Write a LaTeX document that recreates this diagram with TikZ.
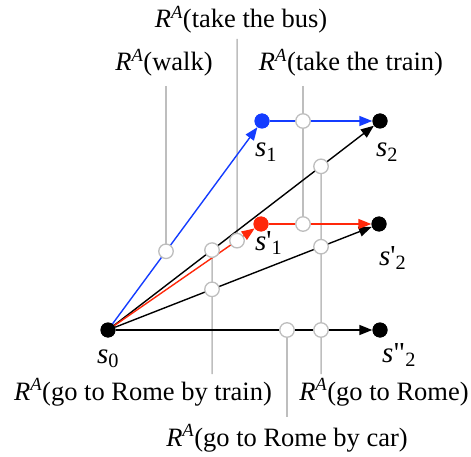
\documentclass[tikz,border=0pt]{standalone}
\usepackage{fontspec}
\setmainfont{Liberation Serif}
\usetikzlibrary{arrows.meta}
\definecolor{blueA}{RGB}{20,60,255}
\definecolor{redA}{RGB}{255,40,10}
\definecolor{grayA}{RGB}{190,190,190}
\newcommand{\RA}{\textit{R}\textsuperscript{\textit{A}}}
\begin{document}
\begin{tikzpicture}[x=1pt,y=-1pt,
  dot/.style={circle,fill=black,inner sep=0pt,minimum size=15pt},
  ring/.style={circle,draw=grayA,fill=white,line width=1.3pt,inner sep=0pt,minimum size=14.5pt},
  grayline/.style={draw=grayA,line width=1.5pt},
  arr/.style={line width=1.4pt,-{Triangle[length=13pt,width=10pt]}},
  rlabel/.style={font=\fontsize{26.5}{30}\selectfont,anchor=base,inner sep=0pt},
  slabel/.style={font=\fontsize{29}{32}\selectfont,anchor=base west,inner sep=0pt}]
\useasboundingbox (0,0) rectangle (471,457);
% states
\node[dot] (s0) at (108,330) {};
\node[dot,fill=blueA] (s1) at (262,121) {};
\node[dot] (s2) at (380,121) {};
\node[dot,fill=redA] (s1p) at (261,224) {};
\node[dot] (s2p) at (379,224) {};
\node[dot] (s2pp) at (380,330) {};
% vertical guide coordinates
\coordinate (walkT) at (166,86);  \coordinate (walkB) at (166,457);
\coordinate (busT) at (237,39);   \coordinate (busB) at (237,457);
\coordinate (trainT) at (303,86); \coordinate (trainB) at (303,457);
\coordinate (rtT) at (212,0);     \coordinate (rtB) at (212,374);
\coordinate (rT) at (321,0);      \coordinate (rB) at (321,374);
\coordinate (rcT) at (287,0);     \coordinate (rcB) at (287,417);
% intersection points
\coordinate (cw) at (intersection of s0--s1 and walkT--walkB);
\coordinate (cb) at (intersection of s0--s1p and busT--busB);
\coordinate (ct1) at (intersection of s1--s2 and trainT--trainB);
\coordinate (ct2) at (intersection of s1p--s2p and trainT--trainB);
\coordinate (crt1) at (intersection of s0--s2 and rtT--rtB);
\coordinate (crt2) at (intersection of s0--s2p and rtT--rtB);
\coordinate (cr1) at (intersection of s0--s2 and rT--rB);
\coordinate (cr2) at (intersection of s0--s2p and rT--rB);
\coordinate (cr3) at (intersection of s0--s2pp and rT--rB);
\coordinate (crc) at (intersection of s0--s2pp and rcT--rcB);
% gray lines
\draw[grayline] (walkT) -- (cw);
\draw[grayline] (busT) -- (cb);
\draw[grayline] (trainT) -- (ct2);
\draw[grayline] (crt1) -- (rtB);
\draw[grayline] (cr1) -- (rB);
\draw[grayline] (crc) -- (rcB);
% arrows
\draw[arr,blueA] (s0) -- (s1);
\draw[arr,black] (s0) -- (s2);
\draw[arr,redA] (s0) -- (s1p);
\draw[arr,black] (s0) -- (s2p);
\draw[arr,black] (s0) -- (s2pp);
\draw[arr,blueA] (s1) -- (s2);
\draw[arr,redA] (s1p) -- (s2p);
% rings
\foreach \c in {cw,cb,ct1,ct2,crt1,crt2,cr1,cr2,cr3,crc}
  \node[ring] (r\c) at (\c) {};
% redraw dots on top
\node[dot] at (s0) {};
\node[dot,fill=blueA] at (s1) {};
\node[dot] at (s2) {};
\node[dot,fill=redA] at (s1p) {};
\node[dot] at (s2p) {};
\node[dot] at (s2pp) {};
% action labels
\node[rlabel] (lbus) at (241,28) {\RA(take the bus)};
\node[rlabel] (lwalk) at (164,71) {\RA(walk)};
\node[rlabel] (ltrain) at (351,71) {\RA(take the train)};
\node[rlabel] (lrt) at (143,400) {\RA(go to Rome by train)};
\node[rlabel] (lr) at (384,400) {\RA(go to Rome)};
\node[rlabel] (lrc) at (287,446) {\RA(go to Rome by car)};
% state labels
\node[slabel] (t1) at (255,157) {\textit{s}\textsubscript{1}};
\node[slabel] (t2) at (376,157) {\textit{s}\textsubscript{2}};
\node[slabel] (t1p) at (255,250) {\textit{s}\textquotesingle\textsubscript{1}};
\node[slabel] (t2p) at (379,265) {\textit{s}\textquotesingle\textsubscript{2}};
\node[slabel] (t0) at (97,363) {\textit{s}\textsubscript{0}};
\node[slabel] (t2pp) at (382,362) {\textit{s}\textquotedbl\textsubscript{2}};
\end{tikzpicture}
\end{document}
